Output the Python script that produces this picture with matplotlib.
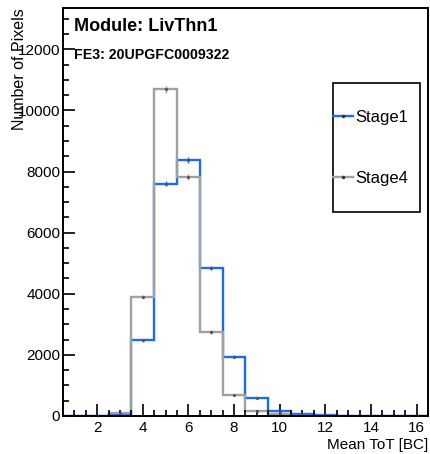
import matplotlib
matplotlib.use('Agg')
import matplotlib.pyplot as plt
from matplotlib.lines import Line2D
from matplotlib.patches import Rectangle
from matplotlib.ticker import MultipleLocator
import numpy as np

plt.rcParams['font.family'] = ['Liberation Sans', 'DejaVu Sans']

# histogram content, bins of width 1 centred on 1..16
bin_edges = np.arange(0.5, 17.0, 1.0)
stage1 = [0, 0, 50, 2480, 7600, 8380, 4850, 1940, 570, 165, 55, 20, 5, 0, 0, 0]
stage4 = [0, 0, 110, 3890, 10690, 7820, 2745, 670, 145, 55, 10, 0, 0, 0, 0, 0]
labels = ['Stage1', 'Stage4']
colors = ['#1a6cf0', '#a0a0a0']

fig = plt.figure(figsize=(4.31, 4.54), dpi=100)
ax = fig.add_axes([0.146, 0.084, 0.847, 0.898])

centers = 0.5 * (bin_edges[:-1] + bin_edges[1:])
for vals, col in zip([stage1, stage4], colors):
    vals = np.array(vals, dtype=float)
    ax.stairs(vals, bin_edges, color=col, lw=1.7, baseline=0)
    m = vals > 0
    ax.errorbar(centers[m], vals[m], yerr=np.sqrt(vals[m]), fmt='.', ms=2.5,
                color=col, mfc='#555555', mec='#555555', elinewidth=1, capsize=0)

ax.set_xlim(0.5, 16.5)
ax.set_ylim(0, 13350)
ax.xaxis.set_major_locator(MultipleLocator(2))
ax.xaxis.set_minor_locator(MultipleLocator(0.5))
ax.yaxis.set_major_locator(MultipleLocator(2000))
ax.yaxis.set_minor_locator(MultipleLocator(500))
ax.tick_params(which='both', direction='in', top=False, right=False, labelsize=11, width=1.2)
ax.tick_params(which='major', length=8.5)
ax.tick_params(which='minor', length=4.3)
ax.tick_params(axis='y', pad=2)
for s in ax.spines.values():
    s.set_linewidth(1.4)

ax.set_xlabel('Mean ToT [BC]', fontsize=11, loc='right', labelpad=2)
ax.set_ylabel('Number of Pixels', fontsize=11.5, loc='top', labelpad=-7)

ax.text(0.03, 0.955, 'Module: LivThn1', transform=ax.transAxes, fontsize=13,
        fontweight='bold', va='center', ha='left')
ax.text(0.03, 0.886, 'FE3: 20UPGFC0009322', transform=ax.transAxes, fontsize=10.2,
        fontweight='bold', va='center', ha='left')

# legend
x0, y0, w, h = 0.74, 0.5, 0.238, 0.316
ax.add_patch(Rectangle((x0, y0), w, h, transform=ax.transAxes, fill=False,
                       ec='black', lw=1.2, zorder=5))
handles = [Line2D([], [], color=c, lw=1.7, marker='.', ms=3, mfc='#333333', mec='#333333')
           for c in colors]
ax.legend(handles, labels, loc='center left', bbox_to_anchor=(x0, y0, w, h),
          frameon=False, fontsize=12, handlelength=1.2, handletextpad=0.15,
          labelspacing=2.75, borderpad=0, borderaxespad=0)

fig.savefig('out.png', dpi=100)
